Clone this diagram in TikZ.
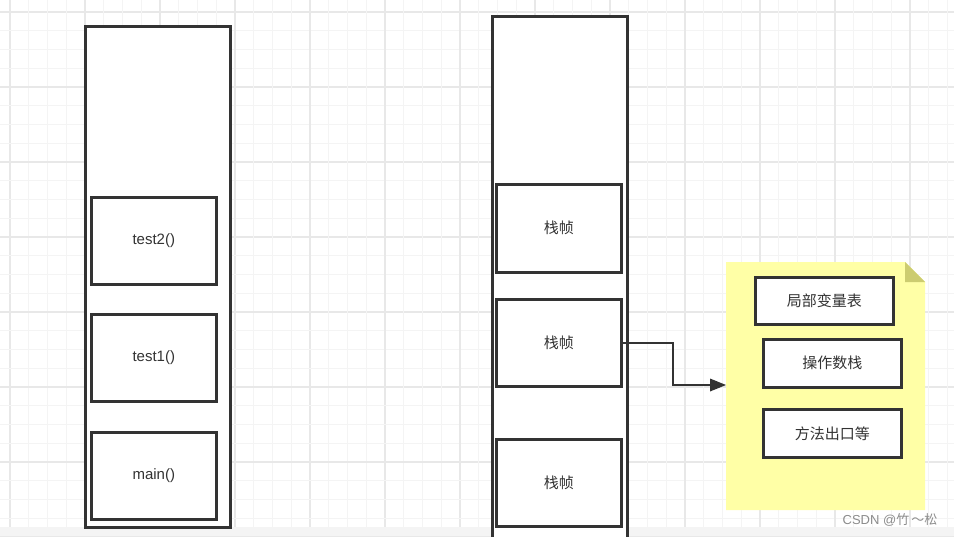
\documentclass[tikz,border=0pt]{standalone}
\usepackage{fontspec}
\setmainfont{Liberation Sans}
\newfontfamily\cjk{Noto Sans CJK SC}
\begin{document}
\begin{tikzpicture}[x=1pt,y=-1pt,
  box/.style={draw=black!80,line width=2.6pt,fill=white,minimum width=0pt,inner sep=0pt,anchor=north west,font=\fontsize{15}{18}\selectfont,text=black!80},
  cbox/.style={box,font=\cjk\fontsize{15}{18}\selectfont},
  conn/.style={draw=black!80,line width=1.8pt}]
\definecolor{minorg}{HTML}{F4F4F4}
\definecolor{majorg}{HTML}{E8E8E8}
\definecolor{notey}{HTML}{FFFFA6}
\definecolor{notef}{HTML}{CCCC70}
\useasboundingbox (0,0) rectangle (954,536);
\fill[white] (0,0) rectangle (954,536);
% grid
\foreach \k in {0,...,50} {
  \pgfmathsetmacro\xx{10+18.75*\k}
  \pgfmathsetmacro\yy{12+18.75*\k}
  \pgfmathtruncatemacro\m{mod(\k,4)}
  \ifnum\m=0
    \draw[majorg,line width=1.3pt] (\xx,0) -- (\xx,536);
    \draw[majorg,line width=1.3pt] (0,\yy) -- (954,\yy);
  \else
    \draw[minorg,line width=1pt] (\xx,0) -- (\xx,536);
    \draw[minorg,line width=1pt] (0,\yy) -- (954,\yy);
  \fi
}
\fill[minorg] (0,527) rectangle (954,536);
% left stack
\node[box,minimum width=145pt,minimum height=501pt] (lstack) at (84,25) {};
\node[box,minimum width=125pt,minimum height=87pt] (t2) at (90,196) {test2()};
\node[box,minimum width=125pt,minimum height=87pt] (t1) at (90,313) {test1()};
\node[box,minimum width=125pt,minimum height=87pt] (mn) at (90,431) {main()};
% right stack
\node[box,minimum width=135pt,minimum height=540pt] (rstack) at (491,15) {};
\node[cbox,minimum width=125pt,minimum height=88pt] (f1) at (495,183) {栈帧};
\node[cbox,minimum width=125pt,minimum height=87pt] (f2) at (495,298) {栈帧};
\node[cbox,minimum width=125pt,minimum height=87pt] (f3) at (495,438) {栈帧};
% note
\fill[notey] (726,262) -- (905,262) -- (925,282) -- (925,510) -- (726,510) -- cycle;
\fill[notef] (905,262) -- (925,282) -- (905,282) -- cycle;
\coordinate (note) at (726,385);
\node[cbox,minimum width=138pt,minimum height=47pt] (lv) at (754,276) {局部变量表};
\node[cbox,minimum width=138pt,minimum height=48pt] (os) at (762,338) {操作数栈};
\node[cbox,minimum width=138pt,minimum height=48pt] (me) at (762,408) {方法出口等};
% arrow
\coordinate (bend) at (673,385);
\draw[conn] (f2.east) -| (bend) -- ([xshift=-15pt]note);
\fill[black!80] ([xshift=-16pt,yshift=-6.5pt]note) -- (note) -- ([xshift=-16pt,yshift=6.5pt]note) -- cycle;
% watermark
\node[text=black!45,font=\fontsize{13}{15}\selectfont,anchor=east] (wm) at (941,520) {CSDN @{\cjk 竹}\,{\cjk \char"FF5E}{\cjk 松}};
\end{tikzpicture}
\end{document}
